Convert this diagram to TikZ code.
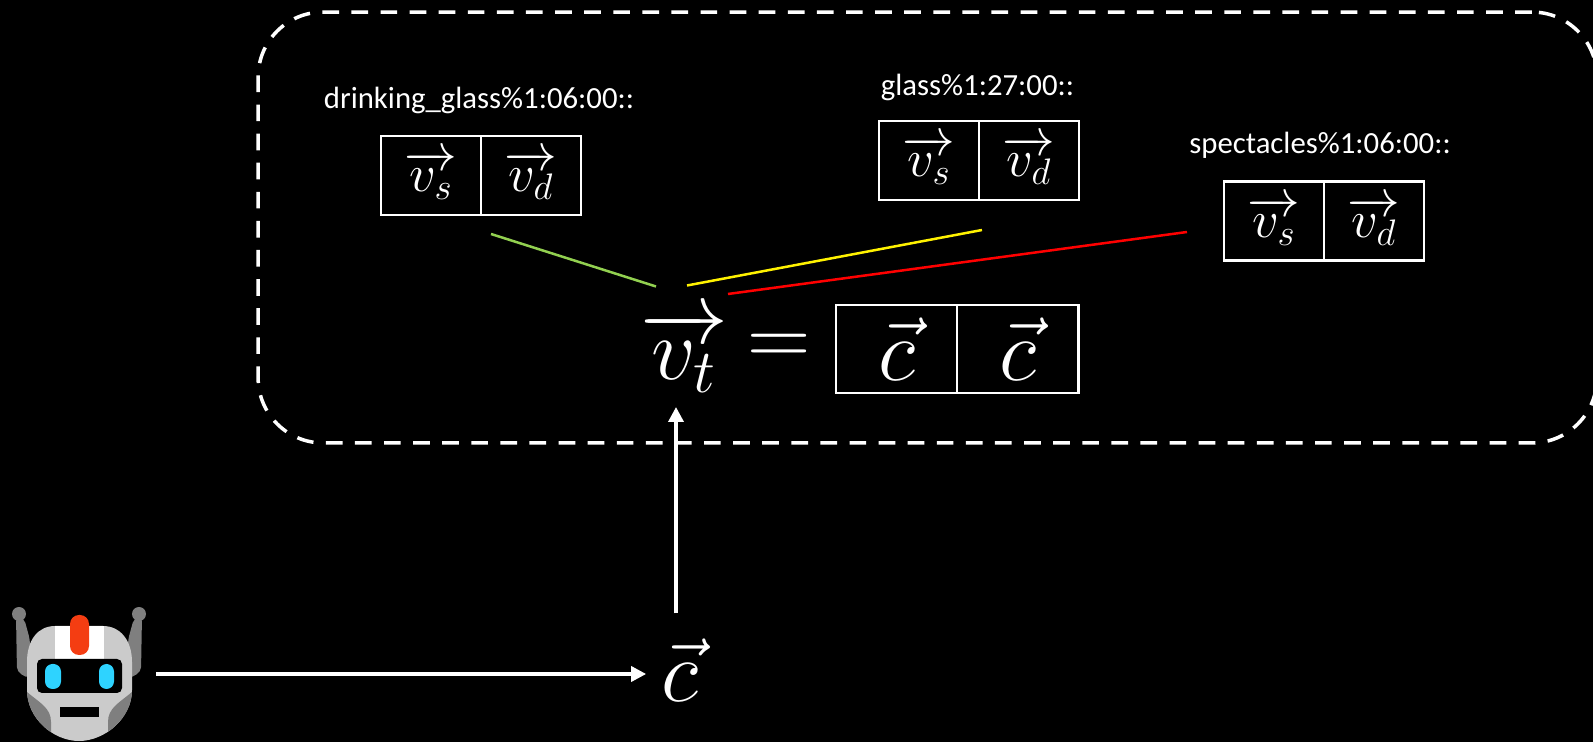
\documentclass[tikz,border=0pt]{standalone}
\usepackage{fix-cm}
\usepackage{fontspec}
\setmainfont{Carlito}
\usetikzlibrary{arrows.meta,positioning}
\definecolor{botlight}{HTML}{CBCBCB}
\definecolor{botdark}{HTML}{7F7F7F}
\definecolor{botred}{HTML}{F43D12}
\definecolor{boteye}{HTML}{2ED3FF}
\definecolor{linkgreen}{HTML}{92D050}
\begin{document}
\begin{tikzpicture}[
      x=0.02cm,y=-0.02cm,
      sense/.style={text=white,font=\fontsize{17.5}{21}\selectfont,inner sep=0pt},
      cell/.style={draw=white,line width=0.05cm,minimum width=2cm,minimum height=1.58cm,inner sep=0pt,outer sep=0pt,text=white,font=\fontsize{30}{36}\selectfont},
      bigcell/.style={cell,minimum width=2.43cm,minimum height=1.76cm,font=\fontsize{50}{60}\selectfont},
      link/.style={line width=0.05cm},
      arr/.style={draw=white,line width=0.07cm,-{Triangle[length=0.3cm,width=0.3cm]}}
    ]
      \useasboundingbox (0,0) rectangle (1593,742);
      \clip (0,0) rectangle (1593,742);
      \fill[black] (0,0) rectangle (1593,742);
      \node[draw=white,line width=0.07cm,dash pattern=on 0.334cm off 0.248cm,rounded corners=1.3cm,minimum width=26.78cm,minimum height=8.62cm,inner sep=0pt,outer sep=0pt] (senses) at (927.5,227.5) {};

      \node[cell] (s1) at (431,175.5) {$\overrightarrow{v_s}$};
      \node[cell,right=0pt of s1] (d1) {$\overrightarrow{v_d}$};
      \node[cell] (s2) at (929,160.5) {$\overrightarrow{v_s}$};
      \node[cell,right=0pt of s2] (d2) {$\overrightarrow{v_d}$};
      \node[cell] (s3) at (1274,221) {$\overrightarrow{v_s}$};
      \node[cell,right=0pt of s3] (d3) {$\overrightarrow{v_d}$};
      \node[sense] (l1) at (479,100) {drinking\_glass\%1:06:00::};
      \node[sense] (l2) at (977.5,87) {glass\%1:27:00::};
      \node[sense] (l3) at (1320,145) {spectacles\%1:06:00::};

      \node[text=white,inner sep=0pt,font=\fontsize{50}{60}\selectfont] (vt) at (684,352) {$\overrightarrow{v_t}$};
      \node[text=white,inner sep=0pt,font=\fontsize{50}{60}\selectfont] (eq) at (779,350) {$=$};
      \node[bigcell] (c1) at (896.5,349) {$\vec{c}$};
      \node[bigcell,right=0pt of c1] (c2) {$\vec{c}$};
      \node[text=white,inner sep=0.3cm,font=\fontsize{50}{60}\selectfont] (cvec) at (680,670) {$\vec{c}$};

      \coordinate (g1) at (491,234);
      \coordinate (g2) at (656,286.5);
      \coordinate (y1) at (982,230);
      \coordinate (y2) at (687,285.5);
      \coordinate (r1) at (1187,232);
      \coordinate (r2) at (728,294);
      \coordinate (vtin) at (676,407);
      \coordinate (botout) at (156,674);
      \draw[link,linkgreen] (g1) -- (g2);
      \draw[link,yellow] (y1) -- (y2);
      \draw[link,red] (r1) -- (r2);
      \draw[arr,shorten <=0.2cm] (cvec.north -| vtin) -- (vtin);
      \draw[arr] (botout) -- (botout -| cvec.west);

      \fill[botdark] (19,614) circle (7) (139,614) circle (7);
      \fill[botdark,rounded corners=0.1cm] (16,616) -- (17,672) -- (30,679) -- (30,640) -- (24,618) -- cycle;
      \fill[botdark,rounded corners=0.1cm] (142,616) -- (141,672) -- (128,679) -- (128,640) -- (134,618) -- cycle;
      \path[fill=botlight] (55,626) -- (103,626) .. controls (120,626) and (132,640) .. (132,662) -- (132,690) .. controls (132,718) and (105,741) .. (79,741) .. controls (53,741) and (27,718) .. (27,690) -- (27,662) .. controls (27,640) and (38,626) .. (55,626) -- cycle;
      \begin{scope}
        \clip (27,626) -- (132,626) -- (132,690) .. controls (132,718) and (105,741) .. (79,741) .. controls (53,741) and (27,718) .. (27,690) -- cycle;
        \fill[botdark] (20,692) -- (27,692) .. controls (40,703) and (51,708) .. (51,722) -- (51,745) -- (20,745) -- cycle;
        \fill[botdark] (138,692) -- (132,692) .. controls (119,703) and (108,708) .. (108,722) -- (108,745) -- (138,745) -- cycle;
      \end{scope}
      \fill[white] (55,626) rectangle (104,659);
      \fill[botred,rounded corners=0.18cm] (70,615) rectangle (89,655);
      \fill[black,rounded corners=0.1cm] (37,659) rectangle (122,693);
      \fill[boteye,rounded corners=0.15cm] (45,664) rectangle (61,689);
      \fill[boteye,rounded corners=0.15cm] (99,664) rectangle (114,689);
      \fill[black] (60,707) rectangle (99,717);
    \end{tikzpicture}
\end{document}
